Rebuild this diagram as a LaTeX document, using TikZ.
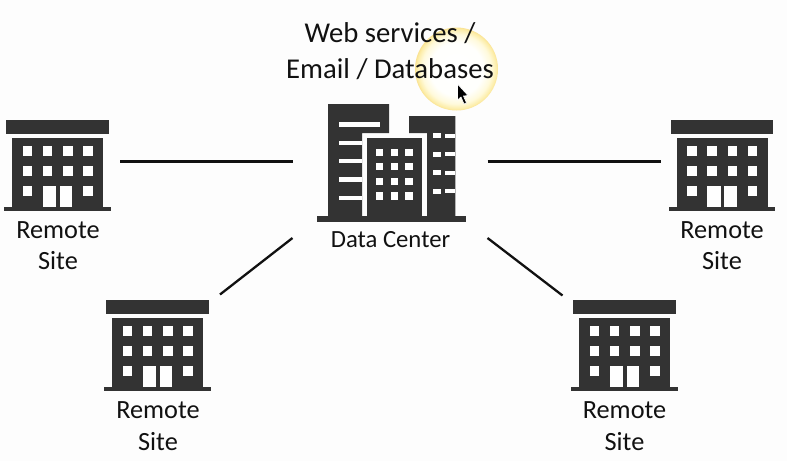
\documentclass[tikz,border=0pt]{standalone}
\usepackage{fontspec}
\setmainfont{Carlito}
\definecolor{bldg}{HTML}{333333}
\definecolor{paper}{HTML}{FDFDFD}
\definecolor{ink}{HTML}{111111}
\pgfdeclareradialshading{glow}{\pgfpoint{0bp}{0bp}}{rgb(0bp)=(1,1,1); rgb(16bp)=(1,1,0.99); rgb(21bp)=(1,0.98,0.86); rgb(24bp)=(0.99,0.93,0.66); rgb(25bp)=(0.98,0.89,0.58); rgb(50bp)=(0.98,0.89,0.58)}
\tikzset{
  x=1pt,y=-1pt,
  solid fill/.style={fill=bldg,draw=none},
  hole/.style={fill=white,draw=none},
  link/.style={draw=ink,line width=2.3pt},
  big label/.style={font=\fontsize{28.7}{36}\selectfont,text=ink,align=center,inner sep=0pt},
  site label/.style={font=\fontsize{26.3}{31.5}\selectfont,text=ink,align=center,inner sep=0pt},
  dc label/.style={font=\fontsize{24.7}{28}\selectfont,text=ink,inner sep=0pt},
  sitebldg/.pic={
    \fill[solid fill] (6,120) rectangle (108.5,133.5);
    \fill[solid fill] (12,138) rectangle (103,207);
    \fill[solid fill] (4,206.5) rectangle (110.5,210.5);
    \foreach \wx in {22.5,42.5,63,83}{
      \foreach \wy in {146,166}{
        \fill[hole] (\wx,\wy) rectangle ++(9.5,9.5);
      }
    }
    \fill[hole] (22.5,186) rectangle ++(9.5,9.5);
    \fill[hole] (83,186) rectangle ++(9.5,9.5);
    \fill[hole] (42.5,186) rectangle (56,206.5);
    \fill[hole] (59.5,186) rectangle (72,206.5);
  }
}
\begin{document}
\begin{tikzpicture}
\useasboundingbox (0,0) rectangle (787,461);
\fill[paper] (0,0) rectangle (787,461);

% highlight
\shade[shading=glow] (456.5,69) circle [radius=41.5];

% sites
\pic at (0,0) {sitebldg};
\pic at (664.5,0) {sitebldg};
\pic at (100,180) {sitebldg};
\pic at (567,180) {sitebldg};

% data center
\fill[solid fill] (317,216) rectangle (466,221.5);
\fill[solid fill] (328,104) -- (389,104) -- (389,133) -- (362,133) -- (362,217) -- (328,217) -- cycle;
\fill[hole] (339,122) rectangle (380,126.5);
\foreach \sy in {140.7,159,177.3,196}{
  \fill[hole] (339,\sy) rectangle (362,\sy+4.4);
}
\fill[solid fill] (367,137.7) rectangle (422,217);
\foreach \wx in {376,390.7,405.3}{
  \foreach \wy in {148.7,163,177.7,192.3}{
    \fill[hole] (\wx,\wy) rectangle ++(7.4,7.4);
  }
}
\fill[solid fill] (409,116) -- (455.3,116) -- (455.3,217) -- (427,217) -- (427,133) -- (409,133) -- cycle;
\foreach \wy in {133,151.5,170,188.5}{
  \fill[hole] (433.3,\wy) rectangle (440.7,\wy+5);
  \fill[hole] (445,\wy+0.5) rectangle (455.3,\wy+4.8);
}

% labels
\node[big label] (svc) at (390,51.5) {Web services /\\Email / Databases};
\node[dc label] (dc) at (390.5,239.5) {Data Center};
\node[site label] (s1) at (58,245.5) {Remote\\Site};
\node[site label] (s2) at (722,245.5) {Remote\\Site};
\node[site label] (s3) at (158,426) {Remote\\Site};
\node[site label] (s4) at (624.5,426) {Remote\\Site};

% connectors
\coordinate (a1) at (120,161.5);
\coordinate (a2) at (292.5,161.5);
\coordinate (b1) at (487.5,161.5);
\coordinate (b2) at (660.5,161.5);
\coordinate (c1) at (292.5,238);
\coordinate (c2) at (220,294.5);
\coordinate (d1) at (487.5,238);
\coordinate (d2) at (562.5,295.5);
\draw[link] (a1) -- (a2);
\draw[link] (b1) -- (b2);
\draw[link] (c1) -- (c2);
\draw[link] (d1) -- (d2);

% pointer
\fill[black,draw=white,line width=0.6pt] (457.5,84) -- (457.5,100) -- (461,97) -- (464,104) -- (466.5,103) -- (463.5,96) -- (468,95.5) -- cycle;
\end{tikzpicture}
\end{document}
